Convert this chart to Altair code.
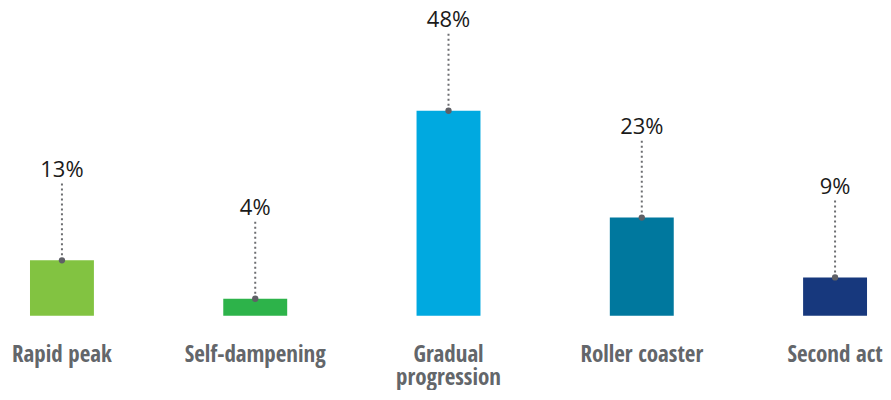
import altair as alt
import pandas as pd

categories = ["Rapid peak", "Self-dampening", "Gradual progression", "Roller coaster", "Second act"]
values = [13, 4, 48, 23, 9]
labels = ["13%", "4%", "48%", "23%", "9%"]
colors = ["#82C341", "#2DB34A", "#00A9E0", "#00789E", "#17387D"]

df = pd.DataFrame({"cat": categories, "value": values, "label": labels})

x = alt.X("cat:N", sort=categories, title=None,
          scale=alt.Scale(paddingInner=0.669, paddingOuter=0.0955, align=0.595),
          axis=alt.Axis(domain=False, ticks=False, labelAngle=0,
                        labelFont="Liberation Sans Narrow, Open Sans Condensed, Open Sans",
                        labelFontWeight="bold", labelFontSize=23, labelColor="#63666A",
                        labelPadding=28, labelLineHeight=23,
                        labelExpr="datum.label == 'Gradual progression' ? ['Gradual', 'progression'] : datum.label"))
yscale = alt.Scale(domain=[0, 72], nice=False)

base = alt.Chart(df).transform_calculate(top="datum.value + 18").encode(x=x)

bars = base.mark_bar(size=64).encode(
    y=alt.Y("value:Q", scale=yscale, axis=None),
    color=alt.Color("cat:N", scale=alt.Scale(domain=categories, range=colors), legend=None),
)

rule = base.mark_rule(
    color="#6D6E71", strokeDash=[2, 3], strokeWidth=2
).encode(y=alt.Y("value:Q", scale=yscale, axis=None), y2="top:Q")

dots = base.mark_circle(size=40, color="#5F6066", opacity=1).encode(
    y=alt.Y("value:Q", scale=yscale, axis=None))

text = base.mark_text(
    font="Open Sans", fontSize=22, color="#1A1A1A", baseline="alphabetic", dy=-6.5
).encode(y=alt.Y("top:Q", scale=yscale, axis=None), text="label:N")

chart = alt.layer(rule, bars, dots, text).properties(
    width=875, height=308, padding=0
).configure_view(stroke=None)

chart.save("out.html", embed_options={"renderer": "svg", "actions": False})
